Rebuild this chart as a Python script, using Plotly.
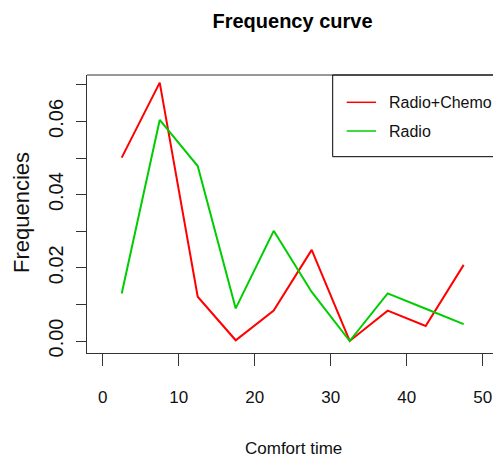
import plotly.graph_objects as go

# Data
comfort_time = [2.5, 7.5, 12.5, 17.5, 22.5, 27.5, 32.5, 37.5, 42.5, 47.5]
radio_chemo = [0.0501, 0.0706, 0.0121, 0.0002, 0.0083, 0.0249, 0.0, 0.0083, 0.0041, 0.0208]
radio = [0.0130, 0.0604, 0.0478, 0.0089, 0.0301, 0.0134, 0.0, 0.0130, 0.0088, 0.0046]
series_names = ["Radio+Chemo", "Radio"]
series_colors = ["#FF0000", "#00CD00"]
x_ticks = [0, 10, 20, 30, 40, 50]
y_ticks = [0.0, 0.01, 0.02, 0.03, 0.04, 0.05, 0.06, 0.07]
y_ticktext = ["0.00", "", "0.02", "", "0.04", "", "0.06", ""]

W, H = 493, 464
L, R, T, B = 87, 493, 75, 353

def px_x(x):
    return (x - L) / (R - L)

def px_y(y):
    return (B - y) / (B - T)

FONT = "Liberation Sans, Arial"
AX = "#333333"

fig = go.Figure()
for name, ys, col in zip(series_names, [radio_chemo, radio], series_colors):
    fig.add_trace(go.Scatter(x=comfort_time, y=ys, mode="lines", name=name,
                             line=dict(color=col, width=2), showlegend=False,
                             cliponaxis=False, hoverinfo="skip"))

fig.update_layout(
    template="none",
    width=W, height=H,
    margin=dict(l=L, r=W - R, t=T, b=H - B, autoexpand=False),
    paper_bgcolor="white", plot_bgcolor="white",
    title=dict(text="<b>Frequency curve</b>", x=292.5 / W, xanchor="center",
               y=1 - 20.5 / H, yanchor="middle",
               font=dict(family=FONT, size=20, color="#000000")),
    xaxis=dict(range=[-2.07, 51.36], tickvals=x_ticks, ticks="outside", ticklen=12,
               tickcolor=AX, tickwidth=1, showline=True, linecolor=AX, linewidth=1,
               showgrid=False, zeroline=False, ticklabelstandoff=17, automargin=False,
               tickfont=dict(family=FONT, size=17, color="#111111")),
    yaxis=dict(range=[-0.00328, 0.07268], tickvals=y_ticks, ticktext=y_ticktext,
               ticks="outside", ticklen=10, tickcolor=AX, tickwidth=1,
               showline=True, linecolor=AX, linewidth=1, showgrid=False, zeroline=False,
               tickangle=-90, ticklabelstandoff=5, automargin=False,
               tickfont=dict(family=FONT, size=20, color="#111111")),
    showlegend=False,
)

shapes = [
    # top border of plot box
    dict(type="line", xref="paper", yref="paper", x0=0, x1=1.02, y0=1, y1=1,
         line=dict(color=AX, width=1)),
    # legend box
    dict(type="rect", xref="paper", yref="paper", x0=px_x(332.7), x1=1.05,
         y0=px_y(156.7), y1=1, line=dict(color="#000000", width=1)),
]
legend_y = [102.3, 131.0]
for name, col, ly in zip(series_names, series_colors, legend_y):
    shapes.append(dict(type="line", xref="paper", yref="paper",
                       x0=px_x(346.7), x1=px_x(376), y0=px_y(ly), y1=px_y(ly),
                       line=dict(color=col, width=1.5)))
fig.update_layout(shapes=shapes)

annotations = []
for name, ly in zip(series_names, legend_y):
    annotations.append(dict(text=name, xref="paper", yref="paper", x=px_x(387),
                            y=px_y(ly + 0.5), xanchor="left", yanchor="middle",
                            showarrow=False,
                            font=dict(family=FONT, size=16, color="#111111")))
annotations.append(dict(text="Comfort time", xref="paper", yref="paper",
                        x=px_x(293), y=px_y(448), xanchor="center", yanchor="middle",
                        showarrow=False, font=dict(family=FONT, size=17, color="#111111")))
annotations.append(dict(text="Frequencies", xref="paper", yref="paper",
                        x=px_x(21), y=px_y(213), xanchor="center", yanchor="middle",
                        textangle=-90, showarrow=False,
                        font=dict(family=FONT, size=22, color="#111111")))
fig.update_layout(annotations=annotations)

# remove the page's default body margin so the figure fills the window exactly
fig.write_html("out.html",
               config={"displayModeBar": False},
               post_script="document.body.style.margin='0';"
                           "document.body.style.overflow='hidden';")
